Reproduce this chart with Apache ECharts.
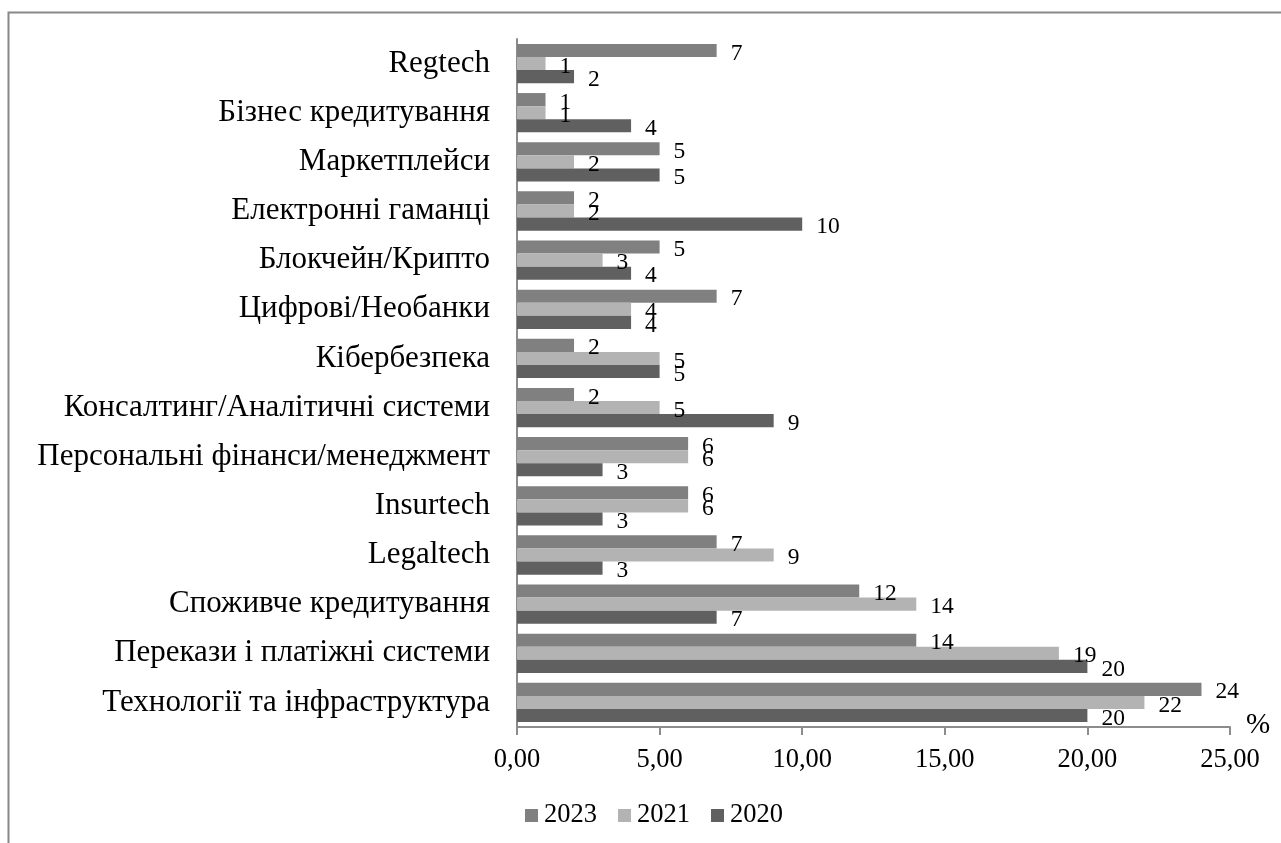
<!DOCTYPE html>
<html>
<head>
<meta charset="utf-8">
<script src="https://cdn.jsdelivr.net/npm/echarts@6/dist/echarts.min.js"></script>
<style>
  html, body { margin: 0; padding: 0; background: #ffffff; }
  #chart { width: 1281px; height: 843px; }
</style>
</head>
<body>
<div id="chart"></div>
<script>
// Fintech segments, listed from the bottom of the axis upward
const categories = [
  'Технології та інфраструктура',
  'Перекази і платіжні системи',
  'Споживче кредитування',
  'Legaltech',
  'Insurtech',
  'Персональні фінанси/менеджмент',
  'Консалтинг/Аналітичні системи',
  'Кібербезпека',
  'Цифрові/Необанки',
  'Блокчейн/Крипто',
  'Електронні гаманці',
  'Маркетплейси',
  'Бізнес кредитування',
  'Regtech'
];

// Share of companies by segment, %
const values2023 = [24, 14, 12, 7, 6, 6, 2, 2, 7, 5, 2, 5, 1, 7];
const values2021 = [22, 19, 14, 9, 6, 6, 5, 5, 4, 3, 2, 2, 1, 1];
const values2020 = [20, 20, 7, 3, 3, 3, 9, 5, 4, 4, 10, 5, 4, 2];

const seriesNames = ['2023', '2021', '2020'];
const seriesColors = ['#808080', '#b3b3b3', '#606060'];

const FONT = "'Liberation Serif', 'Times New Roman', serif";

const chart = echarts.init(document.getElementById('chart'), null, { renderer: 'canvas' });

function makeSeries(name, data, color) {
  return {
    name: name,
    type: 'bar',
    data: data,
    barGap: '0%',
    barCategoryGap: '20%',
    itemStyle: { color: color },
    label: {
      show: true,
      position: 'right',
      distance: 14,
      offset: [0, 3],
      color: '#000',
      fontFamily: FONT,
      fontSize: 23.5
    },
    emphasis: { disabled: true },
    animation: false
  };
}

const option = {
  backgroundColor: '#ffffff',
  animation: false,
  textStyle: { fontFamily: FONT },
  graphic: [{
    type: 'rect',
    left: 6, top: 10,
    shape: { width: 1290, height: 850 },
    style: { fill: 'none', stroke: '#888888', lineWidth: 2 },
    silent: true
  }],
  grid: { left: 517, right: 51, top: 39, bottom: 116 },
  legend: {
    data: seriesNames,
    bottom: 9,
    left: 520,
    itemWidth: 13,
    itemHeight: 13,
    itemGap: 21,
    icon: 'rect',
    textStyle: { fontFamily: FONT, fontSize: 26.5, color: '#000', padding: [0, 0, 0, 1] }
  },
  xAxis: {
    type: 'value',
    min: 0,
    max: 25,
    interval: 5,
    name: '%',
    nameLocation: 'end',
    nameGap: 16,
    nameTextStyle: { fontFamily: FONT, fontSize: 29, color: '#000', verticalAlign: 'bottom', padding: [0, 0, -13, 0] },
    axisLine: { show: true, lineStyle: { color: '#8c8c8c', width: 2 } },
    axisTick: { show: true, length: 8, lineStyle: { color: '#8c8c8c', width: 2 } },
    splitLine: { show: false },
    axisLabel: {
      margin: 20,
      color: '#000',
      fontFamily: FONT,
      fontSize: 26.5,
      formatter: v => v.toFixed(2).replace('.', ',')
    }
  },
  yAxis: {
    type: 'category',
    data: categories,
    axisLine: { show: true, lineStyle: { color: '#8c8c8c', width: 2 } },
    axisTick: { show: false },
    axisLabel: {
      margin: 27,
      color: '#000',
      fontFamily: FONT,
      fontSize: 31
    }
  },
  series: [
    makeSeries(seriesNames[0], values2023, seriesColors[0]),
    makeSeries(seriesNames[1], values2021, seriesColors[1]),
    makeSeries(seriesNames[2], values2020, seriesColors[2])
  ]
};

chart.setOption(option);
</script>
</body>
</html>
